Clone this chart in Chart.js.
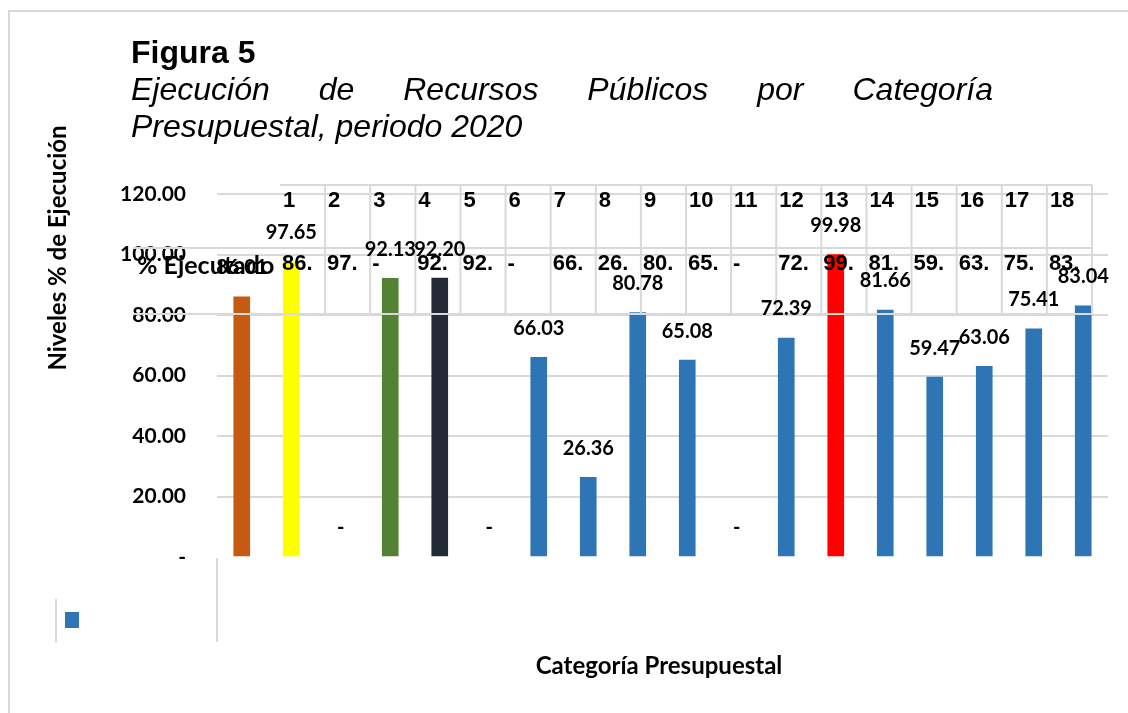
<!DOCTYPE html>
<html>
<head>
<meta charset="utf-8">
<script src="https://cdn.jsdelivr.net/npm/chart.js@4.4.0/dist/chart.umd.min.js"></script>
<style>
  body { margin: 0; background: #fff; }
  #wrap { position: relative; width: 1128px; height: 713px; }
  canvas { position: absolute; left: 0; top: 0; }
  .t { position: absolute; left: 131px; font-family: "Liberation Sans", Arial, sans-serif; font-size: 32px; line-height: 37px; color: #000; white-space: nowrap; }
  #fig { top: 34px; font-weight: bold; }
  #sub1 { top: 71px; width: 862px; font-style: italic; text-align: justify; text-align-last: justify; white-space: normal; }
  #sub2 { top: 108px; font-style: italic; }
</style>
</head>
<body>
<div id="wrap">
  <canvas id="ejecucion" width="1128" height="713"></canvas>
  <div class="t" id="fig">Figura 5</div>
  <div class="t" id="sub1">Ejecución de Recursos Públicos por Categoría</div>
  <div class="t" id="sub2">Presupuestal, periodo 2020</div>
</div>
<script>
var categorias = ["1", "2", "3", "4", "5", "6", "7", "8", "9", "10", "11", "12", "13", "14", "15", "16", "17", "18"];
var ejecutado = [86.01, 97.65, 0, 92.13, 92.20, 0, 66.03, 26.36, 80.78, 65.08, 0, 72.39, 99.98, 81.66, 59.47, 63.06, 75.41, 83.04];
var barColors = [
  "#c55a11", "#ffff00", "#2e75b6", "#548235", "#222a35", "#2e75b6",
  "#2e75b6", "#2e75b6", "#2e75b6", "#2e75b6", "#2e75b6", "#2e75b6",
  "#ff0000", "#2e75b6", "#2e75b6", "#2e75b6", "#2e75b6", "#2e75b6"
];
var serieNombre = "% Ejecutado";
var ejeY = "Niveles % de Ejecución";
var ejeX = "Categoría Presupuestal";

var gris = "#d9d9d9";

// Excel-style extras: data table, labels, titles, legend stub
var decor = {
  id: "decor",
  afterDatasetsDraw: function (chart) {
    var ctx = chart.ctx;
    var bars = chart.getDatasetMeta(0).data;
    ctx.save();

    // data table (misplaced over the plot, like the original)
    var tx = 280, tw = (1092 - 280) / categorias.length;
    ctx.strokeStyle = gris;
    ctx.lineWidth = 2;
    ctx.beginPath();
    ctx.moveTo(tx, 185); ctx.lineTo(1092, 185);
    ctx.moveTo(133, 248); ctx.lineTo(1092, 248);
    ctx.moveTo(133, 314); ctx.lineTo(1092, 314);
    for (var k = 1; k <= categorias.length; k++) {
      ctx.moveTo(tx + k * tw, 185); ctx.lineTo(tx + k * tw, 314);
    }
    ctx.stroke();

    ctx.fillStyle = "#000";
    ctx.textBaseline = "middle";
    ctx.textAlign = "left";
    ctx.font = "bold 22px 'Liberation Sans', Arial";
    categorias.forEach(function (c, i) {
      var cx = tx + i * tw;
      ctx.fillText(c, cx + 3, 201);
      var s = ejecutado[i] === 0 ? "-" : ejecutado[i].toFixed(2).slice(0, 3);
      ctx.fillText(s, cx + 2, 264);
    });
    ctx.font = "bold 25px Lato";
    ctx.fillText(serieNombre, 137, 266);

    // data labels
    ctx.textAlign = "center";
    ctx.font = "bold 20px Lato";
    bars.forEach(function (b, i) {
      var v = ejecutado[i];
      ctx.fillText(v === 0 ? "-" : v.toFixed(2), b.x, b.y - 29);
    });

    // legend stub
    ctx.beginPath();
    ctx.moveTo(56, 599); ctx.lineTo(56, 642);
    ctx.moveTo(217, 558); ctx.lineTo(217, 642);
    ctx.stroke();
    ctx.fillStyle = "#2e75b6";
    ctx.fillRect(65, 612, 14, 16);

    // axis titles
    ctx.fillStyle = "#000";
    ctx.font = "bold 24px Lato";
    ctx.fillText(ejeX, 659, 666);
    ctx.translate(58, 248);
    ctx.rotate(-Math.PI / 2);
    ctx.fillText(ejeY, 0, 0);
    ctx.restore();

    // outer frame
    ctx.save();
    ctx.strokeStyle = gris;
    ctx.lineWidth = 2;
    ctx.beginPath();
    ctx.moveTo(9, 713); ctx.lineTo(9, 11); ctx.lineTo(1128, 11);
    ctx.stroke();
    ctx.restore();
  }
};

new Chart("ejecucion", {
  type: "bar",
  data: {
    labels: categorias,
    datasets: [{
      label: serieNombre,
      data: ejecutado,
      backgroundColor: function (c) {
        return ejecutado[c.dataIndex] === 0 ? "rgba(0,0,0,0)" : barColors[c.dataIndex];
      },
      barThickness: 16
    }]
  },
  options: {
    responsive: false,
    animation: false,
    layout: { padding: { top: 194, right: 20, bottom: 156, left: 0 } },
    plugins: {
      legend: { display: false },
      tooltip: { enabled: false }
    },
    scales: {
      x: { display: false },
      y: {
        min: 0,
        max: 120,
        border: { display: false },
        grid: {
          drawTicks: false,
          lineWidth: 2,
          color: function (c) { return c.tick.value === 0 ? "rgba(0,0,0,0)" : gris; }
        },
        ticks: {
          stepSize: 20,
          padding: 31,
          color: "#000",
          font: { family: "Lato", size: 21, weight: "bold" },
          callback: function (v) { return v === 0 ? "-" : v.toFixed(2); }
        },
        afterFit: function (s) { s.width = 217; }
      }
    }
  },
  plugins: [decor]
});
</script>
</body>
</html>
